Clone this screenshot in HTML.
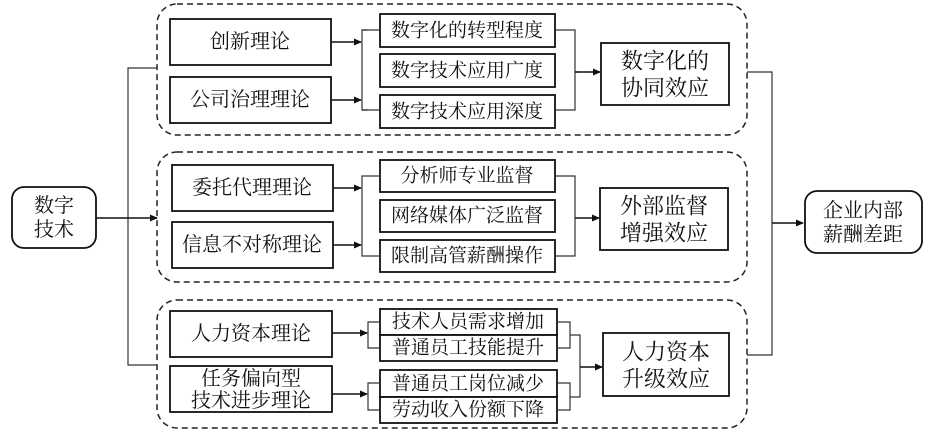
<!DOCTYPE html>
<html><head><meta charset="utf-8"><style>
body{margin:0;background:#fff}
svg{display:block}
text{font-family:"Liberation Serif","Noto Serif CJK SC","Noto Sans CJK SC",serif;fill:#111;text-anchor:middle;dominant-baseline:central}
</style></head><body>
<svg width="930" height="432" viewBox="0 0 930 432" xmlns="http://www.w3.org/2000/svg">
<defs><marker id="a" markerWidth="8" markerHeight="8" refX="7" refY="4" orient="auto" markerUnits="userSpaceOnUse"><path d="M0,0.5 L8,4 L0,7.5z" fill="#111"/></marker></defs>
<g fill="none" stroke="#222" stroke-width="1.5" stroke-dasharray="6,4">
<rect x="157" y="4" width="590" height="131" rx="20"/>
<rect x="157" y="152" width="590" height="130" rx="20"/>
<rect x="157" y="300" width="590" height="128" rx="20"/>
</g>
<g fill="#fff" stroke="#111" stroke-width="1.8">
<rect x="12" y="187" width="84" height="61" rx="12"/>
<rect x="805" y="191" width="117" height="62" rx="12"/>
<rect x="170" y="19" width="161" height="46"/>
<rect x="170" y="77" width="161" height="46"/>
<rect x="380" y="14" width="175" height="33"/>
<rect x="380" y="54" width="175" height="33"/>
<rect x="380" y="95" width="175" height="33"/>
<rect x="601" y="43" width="128" height="62"/>
<rect x="172" y="165" width="161" height="46"/>
<rect x="172" y="222" width="161" height="46"/>
<rect x="380" y="160" width="175" height="32"/>
<rect x="380" y="200" width="175" height="32"/>
<rect x="380" y="240" width="175" height="32"/>
<rect x="600" y="188" width="128" height="62"/>
<rect x="170" y="311" width="162" height="46"/>
<rect x="170" y="366" width="162" height="46"/>
<rect x="380" y="309" width="177" height="26"/>
<rect x="380" y="335" width="177" height="26"/>
<rect x="380" y="370" width="177" height="27"/>
<rect x="380" y="397" width="177" height="26"/>
<rect x="603" y="333" width="126" height="63"/>
</g>
<g fill="none" stroke="#333" stroke-width="1.2">
<path d="M157,68 H128 V365 H157"/>
<path d="M747,72 H772 V355 H747"/>
<path d="M368,30 H362 V110 H368 M362,30 V110"/>
<path d="M555,30 H575 V110 H555 M575,72 H580"/>
<path d="M380,176 H362 V256 H380"/>
<path d="M555,176 H575 V256 H555"/>
<path d="M380,322 H368 V348 H380"/>
<path d="M380,383 H368 V410 H380"/>
<path d="M557,322 H570 V348 H557"/>
<path d="M557,383 H570 V410 H557"/>
<path d="M570,335 H580 V397 H570"/>
<path d="M362,30 H380 M362,110 H380"/>
</g>
<g stroke="#111" stroke-width="1.4" marker-end="url(#a)">
<line x1="96" y1="218" x2="157" y2="218"/>
<line x1="772" y1="223" x2="803" y2="223"/>
<line x1="331" y1="42" x2="361" y2="42"/>
<line x1="331" y1="100" x2="361" y2="100"/>
<line x1="575" y1="72" x2="600" y2="72"/>
<line x1="333" y1="188" x2="361" y2="188"/>
<line x1="333" y1="245" x2="361" y2="245"/>
<line x1="575" y1="218" x2="599" y2="218"/>
<line x1="332" y1="333" x2="367" y2="333"/>
<line x1="332" y1="394" x2="367" y2="394"/>
<line x1="580" y1="367" x2="602" y2="367"/>
</g>
<g font-size="20">
<text x="54" y="206">数字</text><text x="54" y="230">技术</text>
<text x="863" y="211">企业内部</text><text x="863" y="235">薪酬差距</text>
<text x="250" y="42">创新理论</text>
<text x="250" y="100">公司治理理论</text>
<text x="252" y="188">委托代理理论</text>
<text x="252" y="245">信息不对称理论</text>
<text x="251" y="334">人力资本理论</text>
<text x="251" y="379">任务偏向型</text><text x="251" y="401">技术进步理论</text>
</g>
<g font-size="19">
<text x="467" y="31">数字化的转型程度</text>
<text x="467" y="71">数字技术应用广度</text>
<text x="467" y="112">数字技术应用深度</text>
<text x="467" y="176">分析师专业监督</text>
<text x="467" y="216">网络媒体广泛监督</text>
<text x="467" y="256">限制高管薪酬操作</text>
<text x="468" y="322">技术人员需求增加</text>
<text x="468" y="348">普通员工技能提升</text>
<text x="468" y="384">普通员工岗位减少</text>
<text x="468" y="410">劳动收入份额下降</text>
</g>
<g font-size="22">
<text x="665" y="61">数字化的</text><text x="665" y="88">协同效应</text>
<text x="664" y="206">外部监督</text><text x="664" y="233">增强效应</text>
<text x="666" y="352">人力资本</text><text x="666" y="379">升级效应</text>
</g>
</svg>
</body></html>
